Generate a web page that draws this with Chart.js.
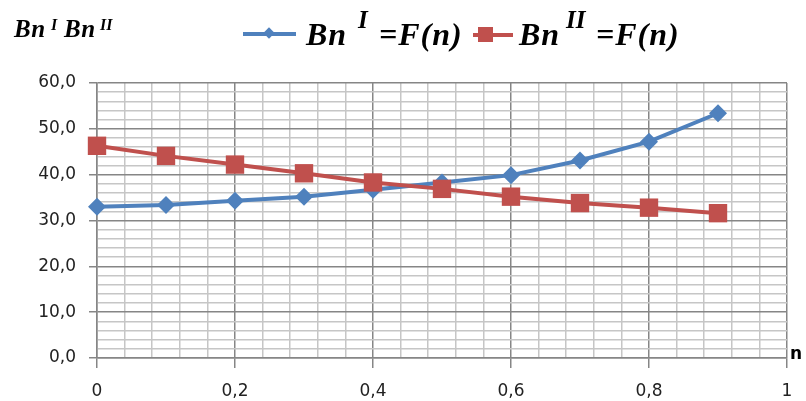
<!DOCTYPE html>
<html>
<head>
<meta charset="utf-8">
<script src="https://cdn.jsdelivr.net/npm/chart.js@4.4.0/dist/chart.umd.min.js"></script>
<style>
  body { margin: 0; background: #fff; }
  #wrap { position: relative; width: 806px; height: 401px; overflow: hidden; }
  #chart { position: absolute; left: 0; top: 0; }
  .serif { position: absolute; white-space: nowrap; line-height: 1; font-family: "Liberation Serif", "Times New Roman", serif;
           font-weight: bold; font-style: italic; color: #000; }
  .t1 { font-size: 25px; top: 16px; letter-spacing: 0.5px; }
  .t2 { font-size: 16px; top: 17px; letter-spacing: 0px; }
  .l1 { font-size: 32px; top: 18px; letter-spacing: 1px; }
  .l2 { font-size: 25px; top: 7px; letter-spacing: 0px; }
  .mark { position: absolute; height: 4px; }
  .mark i { position: absolute; display: block; }
  #nlab { position: absolute; left: 790px; top: 343px; font: bold 17px "DejaVu Sans", sans-serif; color: #000; }
</style>
</head>
<body>
<div id="wrap">
  <canvas id="chart" width="806" height="401"></canvas>
  <!-- axis title -->
  <span class="serif t1" style="left:14px;">Bn</span>
  <span class="serif t2" style="left:51px;">I</span>
  <span class="serif t1" style="left:64px;">Bn</span>
  <span class="serif t2" style="left:100px;">II</span>
  <!-- legend -->
  <div class="mark" style="left:243px;top:32px;width:53px;background:#4F81BD;">
    <i style="left:22px;top:-3px;width:8px;height:8px;background:#4F81BD;transform:rotate(45deg);"></i>
  </div>
  <span class="serif l1" style="left:306px;">Bn</span>
  <span class="serif l2" style="left:358px;">I</span>
  <span class="serif l1" style="left:379px;">=F(n)</span>
  <div class="mark" style="left:473px;top:33px;width:40px;background:#C0504D;">
    <i style="left:5px;top:-6px;width:15px;height:15px;background:#C0504D;"></i>
  </div>
  <span class="serif l1" style="left:519px;">Bn</span>
  <span class="serif l2" style="left:566px;">II</span>
  <span class="serif l1" style="left:596px;">=F(n)</span>
  <div id="nlab">n</div>
</div>
<script>
// values
var nValues = [0, 0.1, 0.2, 0.3, 0.4, 0.5, 0.6, 0.7, 0.8, 0.9];
var bnI = [33.0, 33.4, 34.3, 35.2, 36.7, 38.3, 39.9, 43.1, 47.2, 53.4];
var bnII = [46.3, 44.1, 42.2, 40.3, 38.3, 36.9, 35.2, 33.8, 32.8, 31.6];
var xMajor = 0.2, xMinor = 0.04;
var yMajor = 10, yMinor = 2;

function isMajor(v, step) {
    var r = v / step;
    return Math.abs(r - Math.round(r)) < 1e-6;
}

function pts(ys) {
    return nValues.map(function (x, i) { return { x: x, y: ys[i] }; });
}

function gridTicks(min, max, step) {
    var t = [];
    var n = Math.round((max - min) / step);
    for (var i = 0; i <= n; i++) t.push({ value: +(min + i * step).toFixed(6) });
    return t;
}

var majorCol = '#868686', minorCol = '#c6c6c6';

new Chart(document.getElementById('chart'), {
    type: 'line',
    data: {
        datasets: [{
            label: 'BnI=F(n)',
            data: pts(bnI),
            borderColor: '#4F81BD',
            backgroundColor: '#4F81BD',
            borderWidth: 4,
            pointStyle: 'rectRot',
            pointRadius: 9,
            pointBorderWidth: 0,
            order: 2,
            clip: false
        }, {
            label: 'BnII=F(n)',
            data: pts(bnII),
            borderColor: '#C0504D',
            backgroundColor: '#C0504D',
            borderWidth: 4,
            pointStyle: 'rect',
            pointRadius: 13,
            pointBorderWidth: 0,
            order: 1,
            clip: false
        }]
    },
    options: {
        responsive: false,
        animation: false,
        layout: { padding: { left: 0, right: 19, top: 83, bottom: 0 } },
        plugins: { legend: { display: false }, tooltip: { enabled: false } },
        scales: {
            x: {
                type: 'linear',
                min: 0,
                max: 1,
                afterBuildTicks: function (s) { s.ticks = gridTicks(0, 1, xMinor); },
                afterFit: function (s) { s.height = 43; },
                ticks: {
                    autoSkip: false,
                    maxRotation: 0,
                    padding: 13,
                    color: '#222',
                    font: { family: 'DejaVu Sans', size: 17 },
                    callback: function (v) {
                        return isMajor(v, xMajor) ? String(+v.toFixed(1)).replace('.', ',') : '';
                    }
                },
                grid: {
                    lineWidth: 1.5,
                    tickLength: 10,
                    color: function (c) { return isMajor(c.tick.value, xMajor) ? majorCol : minorCol; },
                    tickColor: function (c) { return isMajor(c.tick.value, xMajor) ? majorCol : 'rgba(0,0,0,0)'; }
                },
                border: { color: majorCol, width: 1.5 }
            },
            y: {
                min: 0,
                max: 60,
                afterBuildTicks: function (s) { s.ticks = gridTicks(0, 60, yMinor); },
                afterFit: function (s) { s.width = 97; },
                ticks: {
                    autoSkip: false,
                    padding: 13,
                    color: '#222',
                    font: { family: 'DejaVu Sans', size: 17 },
                    callback: function (v) {
                        return isMajor(v, yMajor) ? v.toFixed(1).replace('.', ',') : '';
                    }
                },
                grid: {
                    lineWidth: 1.5,
                    tickLength: 8,
                    color: function (c) { return isMajor(c.tick.value, yMajor) ? majorCol : minorCol; },
                    tickColor: function (c) { return isMajor(c.tick.value, yMajor) ? majorCol : 'rgba(0,0,0,0)'; }
                },
                border: { color: majorCol, width: 1.5 }
            }
        }
    }
});
</script>
</body>
</html>
